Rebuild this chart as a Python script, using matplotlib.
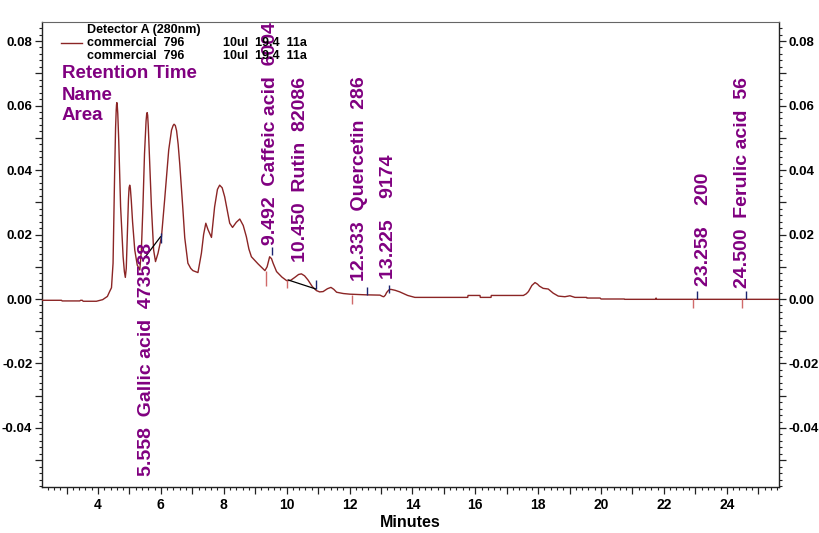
import numpy as np
import matplotlib
matplotlib.use("Agg")
import matplotlib.pyplot as plt
from matplotlib.ticker import MultipleLocator

plt.rcParams['font.family'] = ['Liberation Sans', 'DejaVu Sans']

# chromatogram trace (minutes, AU)
rt_min = [2.22, 2.84, 2.86, 3.42, 3.45, 3.50, 3.53, 3.95, 4.15, 4.30, 4.37, 4.43, 4.48,
          4.53, 4.56, 4.58, 4.59, 4.60, 4.61, 4.63, 4.66, 4.72, 4.80, 4.84, 4.87, 4.90,
          4.94, 4.97, 4.99, 5.01, 5.03, 5.06, 5.10, 5.17, 5.25, 5.33, 5.38, 5.43, 5.48,
          5.51, 5.53, 5.55, 5.565, 5.58, 5.60, 5.63, 5.70, 5.77, 5.83, 5.91, 6.02, 6.12,
          6.25, 6.34, 6.39, 6.42, 6.46, 6.50, 6.55, 6.60, 6.70, 6.76, 6.86, 6.95, 7.02,
          7.18, 7.29, 7.36, 7.43, 7.50, 7.61, 7.71, 7.80, 7.87, 7.95, 8.03, 8.12, 8.19,
          8.28, 8.40, 8.51, 8.62, 8.72, 8.80, 8.88, 9.09, 9.31, 9.38, 9.46, 9.52, 9.57,
          9.68, 9.85, 10.00, 10.13, 10.26, 10.38, 10.47, 10.57, 10.68, 10.82, 10.95,
          11.05, 11.16, 11.30, 11.41, 11.50, 11.59, 11.80, 12.01, 12.50, 12.97, 13.05,
          13.09, 13.14, 13.18, 13.25, 13.31, 13.45, 13.60, 13.85, 14.08, 15.76, 15.77,
          16.15, 16.16, 16.50, 16.51, 17.53, 17.62, 17.69, 17.80, 17.90, 17.98, 18.04,
          18.16, 18.32, 18.48, 18.64, 18.85, 19.01, 19.17, 19.54, 19.55, 19.97, 20.00,
          20.74, 20.75, 21.73, 21.75, 21.77, 23.00, 25.66]
absorb = [-0.0004, -0.0004, -0.0006, -0.0006, -0.0004, -0.0004, -0.0007, -0.0007, -0.0002,
          0.0008, 0.0023, 0.0035, 0.0111, 0.0390, 0.0530, 0.0585, 0.0602, 0.0609, 0.0606,
          0.0575, 0.0493, 0.0286, 0.0131, 0.0085, 0.0067, 0.0095, 0.0214, 0.0310, 0.0345,
          0.0353, 0.0344, 0.0305, 0.0240, 0.0152, 0.0105, 0.0090, 0.0150, 0.0286, 0.0450,
          0.0514, 0.0552, 0.0574, 0.0578, 0.0570, 0.0535, 0.0460, 0.0286, 0.0152, 0.0116,
          0.0142, 0.0193, 0.0307, 0.0462, 0.0524, 0.0538, 0.0542, 0.0538, 0.0522, 0.0480,
          0.0420, 0.0280, 0.0190, 0.0111, 0.0095, 0.0088, 0.0082, 0.0142, 0.0200, 0.0235,
          0.0215, 0.0191, 0.0286, 0.0340, 0.0353, 0.0345, 0.0317, 0.0270, 0.0235, 0.0222,
          0.0238, 0.0248, 0.0228, 0.0193, 0.0155, 0.0131, 0.0109, 0.0088, 0.0100, 0.0131,
          0.0125, 0.0111, 0.0085, 0.0068, 0.0057, 0.0058, 0.0067, 0.0076, 0.0078, 0.0072,
          0.0059, 0.0038, 0.0026, 0.0022, 0.0023, 0.0032, 0.0036, 0.0030, 0.0021, 0.0017,
          0.0015, 0.0013, 0.0012, 0.0008, 0.0007, 0.0012, 0.0020, 0.0028, 0.0030, 0.0027,
          0.0022, 0.0011, 0.0005, 0.0005, 0.0011, 0.0011, 0.0005, 0.0005, 0.0011, 0.0011,
          0.0016, 0.0023, 0.0042, 0.0051, 0.0046, 0.0040, 0.0033, 0.0031, 0.0018, 0.0009,
          0.0007, 0.0010, 0.0005, 0.0005, 0.0003, 0.0003, 0.0000, 0.0000, -0.0001, -0.0001,
          0.0003, -0.0001, -0.0001, -0.0001]

# peak annotations: retention time, name, area, bottom of label (AU)
peak_rt = ["5.558", "9.492", "10.450", "12.333", "13.225", "23.258", "24.500"]
peak_name = ["Gallic acid", "Caffeic acid", "Rutin", "Quercetin", "", "", "Ferulic acid"]
peak_area = ["473538", "6004", "82086", "286", "9174", "200", "56"]
label_bottom = [-0.0549, 0.0167, 0.0115, 0.0056, 0.0062, 0.0040, 0.0034]

# integration marks (start ticks point down, end ticks point up)
start_t = [9.34, 10.00, 12.07, 22.91, 24.47]
start_lo = [0.0040, 0.0034, -0.0015, -0.0027, -0.0027]
start_hi = [0.0088, 0.0059, 0.0012, 0.0000, 0.0000]
end_t = [6.00, 9.52, 10.93, 12.57, 13.26, 23.05, 24.61]
end_lo = [0.0174, 0.0135, 0.0031, 0.0012, 0.0018, 0.0000, 0.0000]
end_hi = [0.0205, 0.0162, 0.0058, 0.0038, 0.0044, 0.0026, 0.0026]
# drawn integration baselines
base_t = [[5.43, 5.99], [10.05, 10.93]]
base_v = [[0.0121, 0.0193], [0.0059, 0.0031]]

y_ticks = [-0.04, -0.02, 0.00, 0.02, 0.04, 0.06, 0.08]
y_labels = ["-0.04", "-0.02", "0.00", "0.02", "0.04", "0.06", "0.08"]
x_ticks = [4, 6, 8, 10, 12, 14, 16, 18, 20, 22, 24]

purple = '#800080'
trace_col = '#8B2525'


def y_fmt(v, pos):
    r = round(v, 2)
    if r in y_ticks and abs(v - r) < 1e-6:
        return y_labels[y_ticks.index(r)]
    return ""


def x_fmt(v, pos):
    r = int(round(v))
    return "%d" % r if r in x_ticks and abs(v - r) < 1e-6 else ""


fig = plt.figure(figsize=(8.2, 5.33), dpi=100)
ax = fig.add_axes([42 / 820, 1 - 487 / 533, (779 - 42) / 820, (487 - 22) / 533])

ax.plot(rt_min, absorb, color=trace_col, lw=1.0, zorder=3)
for bt, bv in zip(base_t, base_v):
    ax.plot(bt, bv, color='black', lw=0.9, zorder=4)
ax.vlines(start_t, start_lo, start_hi, color='#d06a6a', lw=1.0, zorder=4)
ax.vlines(end_t, end_lo, end_hi, color='#1c2470', lw=1.0, zorder=4)

for rt, nm, ar, yb in zip(peak_rt, peak_name, peak_area, label_bottom):
    s = rt + "  " + nm + "  " + ar
    ax.text(float(rt), yb, s, rotation=90, ha='center', va='bottom', color=purple,
            fontsize=14, fontweight='bold', clip_on=False, zorder=5)

ax.set_xlim(2.22, 25.66)
ax.set_ylim(-0.0583, 0.0859)

ax.xaxis.set_major_locator(MultipleLocator(1))
ax.xaxis.set_minor_locator(MultipleLocator(0.2))
ax.xaxis.set_major_formatter(plt.FuncFormatter(x_fmt))
ax.yaxis.set_major_locator(MultipleLocator(0.01))
ax.yaxis.set_minor_locator(MultipleLocator(0.002))
ax.yaxis.set_major_formatter(plt.FuncFormatter(y_fmt))

ax.tick_params(axis='y', which='both', direction='out', left=True, right=True,
               labelleft=True, labelright=True)
ax.tick_params(axis='x', which='both', direction='out', top=False)
ax.tick_params(which='major', length=5, width=0.9, color='#222222')
ax.tick_params(which='minor', length=2.5, width=0.8, color='#222222')
ax.tick_params(axis='y', pad=2, labelsize=9.5)
ax.tick_params(axis='x', pad=3, labelsize=10)
for lbl in ax.get_yticklabels() + ax.get_xticklabels():
    lbl.set_fontweight('bold')

for side in ['left', 'right', 'bottom']:
    ax.spines[side].set_color('#222222')
    ax.spines[side].set_linewidth(1.0)
ax.spines['top'].set_color('#666666')
ax.spines['top'].set_linewidth(0.8)

ax.set_xlabel('Minutes', fontsize=11.5, fontweight='bold', labelpad=2)

# header block
fig.text(87 / 820, 1 - 30 / 533, 'Detector A (280nm)', fontsize=9, fontweight='bold', va='center')
for yy in [43, 56]:
    fig.text(87 / 820, 1 - yy / 533, 'commercial  796', fontsize=9, fontweight='bold', va='center')
    fig.text(223 / 820, 1 - yy / 533, '10ul  19.4  11a', fontsize=9, fontweight='bold', va='center')
fig.add_artist(plt.Line2D([61 / 820, 82 / 820], [1 - 43 / 533, 1 - 43 / 533], color=trace_col, lw=1.0))

for txt, yy in zip(['Retention Time', 'Name', 'Area'], [74, 95, 115]):
    fig.text(62 / 820, 1 - yy / 533, txt, fontsize=13.5, fontweight='bold', color=purple, va='center')

fig.savefig('out.png', dpi=100)
